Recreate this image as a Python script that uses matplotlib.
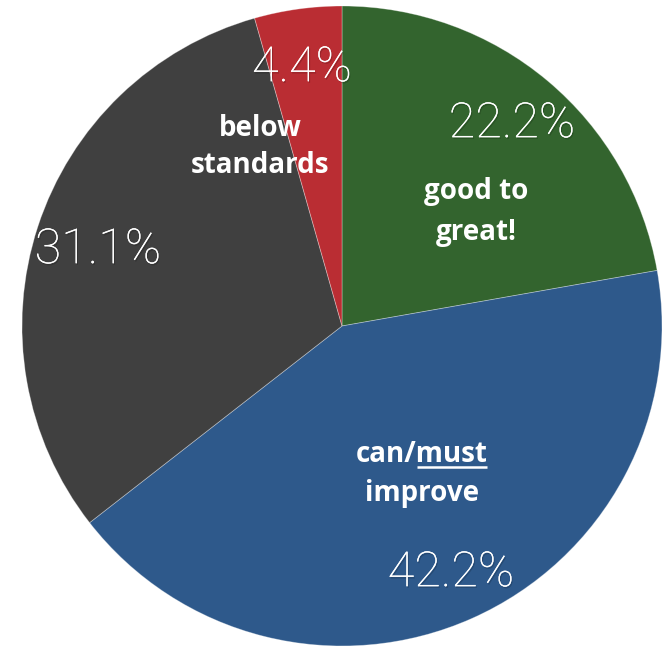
import matplotlib
matplotlib.use("Agg")
import matplotlib.pyplot as plt
import matplotlib.patheffects as pe

# Survey outcome shares, clockwise from 12 o'clock
categories = ["good to great!", "can/must improve", "below standards (gray)", "below standards"]
shares = [22.2, 42.2, 31.1, 4.4]
pct_labels = ["22.2%", "42.2%", "31.1%", "4.4%"]
colors = ["#33642e", "#2e598b", "#404040", "#ba2d33"]

W, H, DPI = 670, 647, 100
fig = plt.figure(figsize=(W / DPI, H / DPI), dpi=DPI)
cx, cy, r = 342, 326, 320
ax = fig.add_axes([(cx - r) / W, (H - cy - r) / H, 2 * r / W, 2 * r / H])

wedges, _ = ax.pie(shares, colors=colors, startangle=90, counterclock=False,
                   radius=1, wedgeprops=dict(edgecolor=(1, 1, 1, 0.35), linewidth=0.6))
ax.set_xlim(-1, 1)
ax.set_ylim(-1, 1)
ax.set_aspect("equal")
ax.axis("off")

def px(x, y):
    """pixel (from top-left) -> data coords"""
    return (x - cx) / r, (cy - y) / r

shadow = [pe.withSimplePatchShadow(offset=(0.8, -1.2), shadow_rgbFace="black", alpha=0.18),
          pe.Normal()]
pct_font = dict(family=["Roboto", "DejaVu Sans"], fontweight="light", fontsize=35, color="white")
pct_pos = [(512, 124), (451, 573), (98, 250), (302, 68)]
for lab, (x, y) in zip(pct_labels, pct_pos):
    ax.text(*px(x, y), lab, ha="center", va="center", path_effects=shadow, **pct_font)

lab_font = dict(family=["Open Sans", "DejaVu Sans"], fontweight="bold", fontsize=20, color="white")
ax.text(*px(260, 128), "below", ha="center", va="center", **lab_font)
ax.text(*px(260, 166), "standards", ha="center", va="center", **lab_font)
ax.text(*px(476, 192), "good to", ha="center", va="center", **lab_font)
ax.text(*px(476, 233), "great!", ha="center", va="center", **lab_font)
ax.text(*px(422, 494), "improve", ha="center", va="center", **lab_font)

# "can/must" with "must" underlined
line = ax.text(*px(422, 455), "can/must", ha="center", va="center", **lab_font)
fig.canvas.draw()
rend = fig.canvas.get_renderer()
full = line.get_window_extent(rend)
probe = ax.text(0, 0, "can/", **lab_font)
pre_w = probe.get_window_extent(rend).width
probe.remove()
x0_px = full.x0 + pre_w
x1_px = full.x1 - 1
inv = ax.transData.inverted()
ux0, uy = inv.transform((x0_px, full.y0 + 2))
ux1, _ = inv.transform((x1_px, full.y0 + 2))
ax.plot([ux0, ux1], [uy, uy], color="white", lw=1.8, solid_capstyle="butt")

fig.savefig("out.png", dpi=DPI)
